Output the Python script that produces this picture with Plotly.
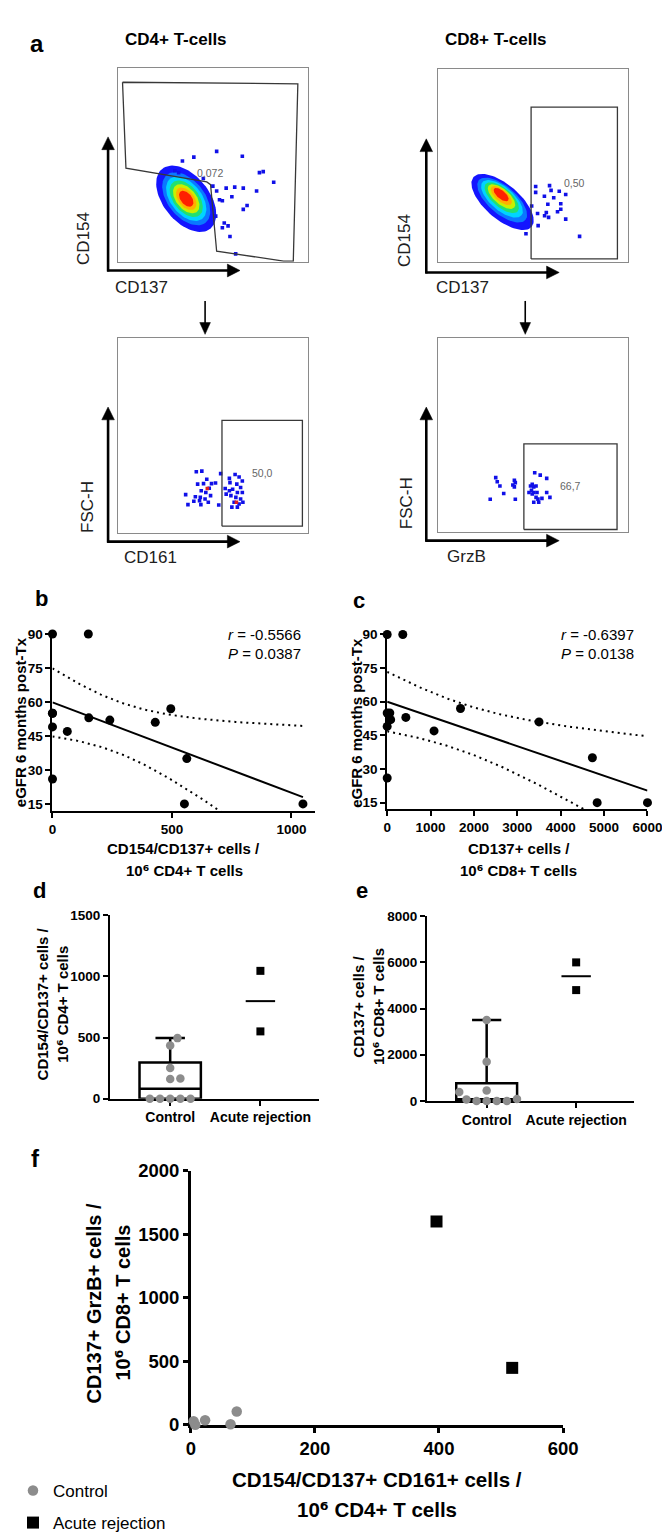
import numpy as np
import plotly.graph_objects as go

W, H = 670, 1533
FONT = "Liberation Sans, Arial, Helvetica, sans-serif"
SUP6 = "<span style='font-family:DejaVu Sans'>⁶</span>"

# ================= DATA =================
# ---- panel a: flow cytometry (display units 0-100 inside each plot) ----
cd4_top_gate_x = [2.5, 94.7, 92.3, 87.2, 52.0, 48.8, 46.8, 4.3, 2.5]
cd4_top_gate_y = [92.7, 91.9, 0.3, 0.3, 5.4, 39.8, 41.2, 48.3, 92.7]
cd4_top_dots_x = [34, 40, 52, 65.5, 74.5, 76.5, 82, 57, 61.5, 66, 73, 60, 66, 68, 56, 58, 55, 59, 62,
                  50, 52, 53.5, 55, 51.5, 30, 32, 45]
cd4_top_dots_y = [52, 54, 57, 54.5, 46, 46.5, 41, 38, 38.5, 38, 36.5, 33.5, 27, 29, 20, 18.5, 17.5, 13, 4,
                  39, 36.5, 32, 31.5, 23.5, 47, 46, 43]
cd4_top_label = "0,072"

cd8_top_gate_x = [49.0, 94.4, 94.4, 49.0, 49.0]
cd8_top_gate_y = [1.4, 1.4, 80.3, 80.3, 1.4]
cd8_top_dots_x = [51.4, 58.7, 59.5, 63.8, 67.2, 56, 60.9, 57.8, 64.6, 62.9, 57, 52.4, 67.2, 58.2, 52.7,
                  74.5, 46.3, 49.3, 51.4, 64.6, 56.1]
cd8_top_dots_y = [39, 39.5, 37, 36.6, 34.9, 34, 33.2, 29.8, 30.1, 25.9, 25.5, 25, 22.1, 23, 18.7,
                  13.1, 14.5, 28.9, 36, 27.2, 23.8]
cd8_top_label = "0,50"

cd4_bot_gate_x = [54.8, 97.1, 97.1, 54.8, 54.8]
cd4_bot_gate_y = [3.4, 3.4, 57.8, 57.8, 3.4]
cd4_bot_dots_x = [41.3, 44.2, 46.8, 42.0, 45.1, 49.3, 51.4, 48.1, 43.9, 46.3, 48.8, 35.7, 40.8, 43.4, 45.9,
                  47.6, 43.0, 36.9, 40.0, 43.7, 53.1, 54.1, 56.5, 58.7, 61.7, 63.8, 65.5, 59.0, 62.6, 64.6,
                  60.4, 62.9, 65.5, 59.5, 62.1, 64.6, 61.2, 63.8, 60.0, 62.9, 58.7, 57.0, 65.8]
cd4_bot_dots_y = [31.4, 31.7, 27.5, 25.0, 25.3, 25.3, 25.6, 22.9, 21.6, 20.7, 19.1, 19.6, 18.5, 18.2, 17.4,
                  15.7, 16.5, 14.5, 16.2, 14.5, 14.3, 30.4, 22.8, 28.0, 30.0, 28.7, 26.6, 25.8, 25.0, 23.3,
                  22.4, 20.7, 20.7, 19.1, 18.2, 17.4, 15.7, 14.8, 13.2, 13.2, 21.6, 19.9, 15.7]
cd4_bot_red_x = [47.1, 62.4]
cd4_bot_red_y = [22.8, 15.7]
cd4_bot_label = "50,0"

cd8_bot_gate_x = [45.2, 94.2, 94.2, 45.2, 45.2]
cd8_bot_gate_y = [1.2, 1.2, 45.4, 45.4, 1.2]
cd8_bot_dots_x = [30.4, 31.2, 32.6, 34.6, 40.2, 40.7, 39.4, 40.2, 27.5, 40.7, 50.9, 53.8, 57.2, 49.6, 50.4,
                  51.6, 49.2, 50.4, 47.9, 49.6, 52.1, 51.6, 52.6, 54.7, 57.2, 58.9, 50.4, 53.0, 48.7]
cd8_bot_dots_y = [28.0, 25.9, 23.7, 19.8, 26.6, 25.4, 24.2, 23.2, 16.8, 16.8, 30.5, 29.3, 27.6, 24.6, 23.2,
                  23.7, 21.5, 20.3, 20.3, 19.5, 20.3, 17.8, 16.9, 17.3, 20.3, 17.8, 15.3, 15.3, 23.7]
cd8_bot_label = "66,7"

# ---- panel b: CD154/CD137+ per 1e6 CD4 vs eGFR ----
b_x = [0, 0, 0, 0, 0, 62, 150, 152, 240, 430, 495, 562, 552, 1048]
b_y = [90, 55, 55, 49, 26, 47, 90, 53, 52, 51, 57, 35, 15, 15]
b_r, b_p = "-0.5566", "0.0387"

# ---- panel c: CD137+ per 1e6 CD8 vs eGFR ----
c_x = [0, 360, 0, 60, 0, 80, 0, 430, 1080, 1690, 3500, 4730, 4840, 6000]
c_y = [90, 90, 55, 55, 49, 52, 26, 53, 47, 57, 51, 35, 15, 15]
c_r, c_p = "-0.6397", "0.0138"

# ---- panels d, e: groups ----
groups = ["Control", "Acute rejection"]
d_control = [0, 0, 0, 0, 0, 160, 165, 250, 435, 495]
d_rejection = [550, 1045]
e_control = [0, 0, 0, 0, 60, 80, 385, 455, 1700, 3500]
e_rejection = [4800, 6000]

# ---- panel f ----
f_control_x = [0, 0, 0, 0, 0, 0, 0, 23, 64, 74]
f_control_y = [0, 0, 0, 0, 0, 0, 0, 36, 4, 105]
f_rej_x = [396, 518]
f_rej_y = [1600, 448]

# ================= HELPERS =================
def X(px):
    return px / W


def Y(py):
    return 1 - py / H


fig = go.Figure()
annotations = []
shapes = []


def txt(x, y, s, size, bold=False, angle=0, xanchor="center", color="black", yanchor="middle"):
    annotations.append(dict(xref="paper", yref="paper", x=X(x), y=Y(y), text=s, showarrow=False,
                            textangle=angle, xanchor=xanchor, yanchor=yanchor,
                            font=dict(family=FONT, size=size, color=color,
                                      weight="bold" if bold else "normal")))


def arrow(x0, y0, x1, y1, width=2.6, head_len=13, head_w=13):
    """Line from (x0,y0) to head tip (x1,y1), pixel positions converted to paper."""
    L = np.hypot(x1 - x0, y1 - y0)
    ux, uy = (x1 - x0) / L, (y1 - y0) / L
    bx, by = x1 - ux * head_len, y1 - uy * head_len
    shapes.append(dict(type="line", xref="paper", yref="paper", x0=X(x0), y0=Y(y0), x1=X(bx + ux),
                       y1=Y(by + uy), line=dict(color="black", width=width)))
    px, py = -uy, ux
    p1 = (bx + px * head_w / 2, by + py * head_w / 2)
    p2 = (bx - px * head_w / 2, by - py * head_w / 2)
    path = (f"M {X(x1)},{Y(y1)} L {X(p1[0])},{Y(p1[1])} L {X(p2[0])},{Y(p2[1])} Z")
    shapes.append(dict(type="path", xref="paper", yref="paper", path=path, fillcolor="black",
                       line=dict(color="black", width=0.5)))


def ellipse(cx, cy, a, b, ang, n=90):
    t = np.linspace(0, 2 * np.pi, n)
    ca, sa = np.cos(np.radians(ang)), np.sin(np.radians(ang))
    return (cx + a * np.cos(t) * ca - b * np.sin(t) * sa,
            cy + a * np.cos(t) * sa + b * np.sin(t) * ca)


layout_axes = {}


def ax_ids(idx):
    return ("x" if idx == 1 else f"x{idx}", "y" if idx == 1 else f"y{idx}")


def flow_axes(idx, x0, x1, ytop, ybot):
    xs = "xaxis" if idx == 1 else f"xaxis{idx}"
    ys = "yaxis" if idx == 1 else f"yaxis{idx}"
    xa, ya = ax_ids(idx)
    common = dict(range=[0, 100], showline=True, mirror=True, linecolor="#8a8a8a", linewidth=1.3,
                  showticklabels=False, ticks="", showgrid=False, zeroline=False, fixedrange=True)
    layout_axes[xs] = dict(domain=[X(x0), X(x1)], anchor=ya, **common)
    layout_axes[ys] = dict(domain=[Y(ybot), Y(ytop)], anchor=xa, **common)


JET = [(1.0, "#1414ff"), (0.80, "#0a78ff"), (0.67, "#00d4ff"), (0.55, "#22e070"),
       (0.44, "#c8f000"), (0.34, "#ffb000"), (0.24, "#ff2000")]


def density(idx, cx, cy, a, b, ang, core):
    xa, ya = ax_ids(idx)
    for s, col in JET:
        ccx = cx + (1 - s) * (core[0] - cx)
        ccy = cy + (1 - s) * (core[1] - cy)
        ex, ey = ellipse(ccx, ccy, a * s, b * s, ang)
        fig.add_trace(go.Scatter(x=ex, y=ey, mode="lines", fill="toself", fillcolor=col,
                                 line=dict(width=0, color=col), xaxis=xa, yaxis=ya,
                                 hoverinfo="skip", showlegend=False))


def flow_panel(idx, gx, gy, dx, dy, label, lx, ly):
    xa, ya = ax_ids(idx)
    fig.add_trace(go.Scatter(x=dx, y=dy, mode="markers", xaxis=xa, yaxis=ya, showlegend=False,
                             marker=dict(symbol="square", size=3.6, color="#1010e8", line=dict(width=0)),
                             hoverinfo="skip"))
    fig.add_trace(go.Scatter(x=gx, y=gy, mode="lines", xaxis=xa, yaxis=ya, showlegend=False,
                             line=dict(color="#383838", width=1.3), hoverinfo="skip"))
    annotations.append(dict(xref=xa, yref=ya, x=lx, y=ly, text=label, showarrow=False,
                            font=dict(family=FONT, size=10.5, color="#666666")))


# ================= PANEL a =================
flow_axes(1, 108, 304, 50, 247)
flow_axes(2, 438, 634, 51, 247)
flow_axes(3, 108, 304, 325, 523)
flow_axes(4, 438, 634, 325, 522)

density(1, 36, 32.5, 20, 12, -50, (36, 32.5))
flow_panel(1, cd4_top_gate_x, cd4_top_gate_y, cd4_top_dots_x, cd4_top_dots_y, cd4_top_label, 48.5, 46)
density(2, 34, 31, 20, 9, -40, (33, 36))
flow_panel(2, cd8_top_gate_x, cd8_top_gate_y, cd8_top_dots_x, cd8_top_dots_y, cd8_top_label, 72, 41)
flow_panel(3, cd4_bot_gate_x, cd4_bot_gate_y, cd4_bot_dots_x, cd4_bot_dots_y, cd4_bot_label, 76, 30.5)
fig.add_trace(go.Scatter(x=cd4_bot_red_x, y=cd4_bot_red_y, mode="markers", xaxis="x3", yaxis="y3",
                         showlegend=False, hoverinfo="skip",
                         marker=dict(symbol="square", size=3.6, color="#e02020", line=dict(width=0))))
flow_panel(4, cd8_bot_gate_x, cd8_bot_gate_y, cd8_bot_dots_x, cd8_bot_dots_y, cd8_bot_label, 69.5, 23.5)

txt(25, 25, "a", 24, bold=True)
txt(168, 21, "CD4+ T-cells", 17, bold=True)
txt(498, 21, "CD8+ T-cells", 17, bold=True)

# flow axis arrows
arrow(98, 257, 98, 120)
arrow(97, 256, 234, 256)
arrow(426, 259, 426, 122)
arrow(425, 258, 563, 258)
arrow(98, 533, 98, 395)
arrow(97, 532, 234, 532)
arrow(426, 532, 426, 395)
arrow(425, 531, 563, 531)
arrow(198, 287, 198, 321, width=1.6, head_len=12, head_w=11)
arrow(528, 287, 528, 321, width=1.6, head_len=12, head_w=11)

LBL = "#202020"
txt(72, 223, "CD154", 17, angle=-90, color=LBL)
txt(132, 273, "CD137", 17, color=LBL)
txt(403, 225, "CD154", 17, angle=-90, color=LBL)
txt(463, 273, "CD137", 17, color=LBL)
txt(77, 497, "FSC-H", 17, angle=-90, color=LBL)
txt(142, 548, "CD161", 17, color=LBL)
txt(405, 493, "FSC-H", 17, angle=-90, color=LBL)
txt(467, 547, "GrzB", 17, color=LBL)

# ================= PANELS b, c =================
T975 = {11: 2.2010, 12: 2.1788, 13: 2.1604}


def data_axis(domain, rng, tickvals, size, lw=2, ticktext=None, anchor=None):
    d = dict(domain=domain, range=rng, tickvals=tickvals, showline=True, linecolor="black",
             linewidth=lw, ticks="outside", ticklen=5, tickwidth=lw, tickcolor="black",
             showgrid=False, zeroline=False, fixedrange=True, layer="below traces", anchor=anchor,
             tickfont=dict(family=FONT, size=size, color="black", weight="bold"))
    if ticktext is not None:
        d["ticktext"] = ticktext
    return d


def regression_panel(xa, ya, xs, ys):
    x = np.asarray(xs, float)
    y = np.asarray(ys, float)
    n = len(x)
    slope, icpt = np.polyfit(x, y, 1)
    resid = y - (slope * x + icpt)
    s = np.sqrt(np.sum(resid ** 2) / (n - 2))
    sxx = np.sum((x - x.mean()) ** 2)
    grid = np.linspace(0, x.max(), 120)
    fit = slope * grid + icpt
    half = T975[n - 2] * s * np.sqrt(1 / n + (grid - x.mean()) ** 2 / sxx)
    for band in (fit + half, fit - half):
        fig.add_trace(go.Scatter(x=grid, y=band, mode="lines", xaxis=xa, yaxis=ya, showlegend=False,
                                 line=dict(color="black", width=2, dash="2px,4px"), hoverinfo="skip"))
    fig.add_trace(go.Scatter(x=grid, y=fit, mode="lines", xaxis=xa, yaxis=ya, showlegend=False,
                             line=dict(color="black", width=2), hoverinfo="skip"))
    fig.add_trace(go.Scatter(x=xs, y=ys, mode="markers", xaxis=xa, yaxis=ya, showlegend=False,
                             cliponaxis=False, marker=dict(color="black", size=9, symbol="circle")))


layout_axes["xaxis5"] = data_axis([X(40.7), X(311.7)], [0, 1100], [0, 500, 1000], 13.5, anchor="y5")
layout_axes["yaxis5"] = data_axis([Y(805.7), Y(626)], [12.1, 90], [15, 30, 45, 60, 75, 90], 13.5,
                                  anchor="x5")
layout_axes["xaxis6"] = data_axis([X(385.7), X(654)], [0, 6000], [0, 1000, 2000, 3000, 4000, 5000, 6000],
                                  13.5, anchor="y6")
layout_axes["yaxis6"] = data_axis([Y(804.3), Y(626.5)], [12.1, 90], [15, 30, 45, 60, 75, 90], 13.5,
                                  anchor="x6")
regression_panel("x5", "y5", b_x, b_y)
regression_panel("x6", "y6", c_x, c_y)

txt(29, 590, "b", 22, bold=True)
txt(357, 592, "c", 22, bold=True)
txt(8, 716, "eGFR 6 months post-Tx", 15, bold=True, angle=-90)
txt(354, 716, "eGFR 6 months post-Tx", 15, bold=True, angle=-90)
txt(299, 627, f"<i>r</i> = {b_r}", 15, xanchor="right")
txt(299, 646, f"<i>P</i> = {b_p}", 15, xanchor="right")
txt(642, 627, f"<i>r</i> = {c_r}", 15, xanchor="right")
txt(642, 646, f"<i>P</i> = {c_p}", 15, xanchor="right")
txt(176, 844, "CD154/CD137+ cells /", 15, bold=True)
txt(177, 867, f"10{SUP6} CD4+ T cells", 15, bold=True)
txt(522, 844, "CD137+ cells /", 15, bold=True)
txt(521, 867, f"10{SUP6} CD8+ T cells", 15, bold=True)

# ================= PANELS d, e =================
GRAY = "#8c8c8c"


def swarm(vals, px_per_unit, diam):
    placed, offs = [], []
    for v in vals:
        yy = v * px_per_unit
        found = None
        step = 0
        while found is None:
            for sgn in ([1] if step == 0 else [1, -1]):
                xx = sgn * step * 0.5
                if all((xx - p) ** 2 + (yy - q) ** 2 >= diam ** 2 for p, q in placed):
                    found = xx
                    break
            step += 1
        placed.append((found, yy))
        offs.append(found)
    return offs


def group_panel(xa, ya, ctrl, rej, px_per_unit, px_per_cat):
    c = np.sort(np.asarray(ctrl, float))
    q1, med, q3 = (np.percentile(c, p, method="weibull") for p in (25, 50, 75))
    fig.add_trace(go.Box(x=[0], q1=[q1], median=[med], q3=[q3], lowerfence=[c.min()], upperfence=[c.max()],
                         xaxis=xa, yaxis=ya, width=0.68, whiskerwidth=0.48, fillcolor="white",
                         line=dict(color="black", width=2.5), boxpoints=False, showlegend=False,
                         hoverinfo="skip"))
    offs = np.array(swarm(c, px_per_unit, 10.5)) / px_per_cat
    fig.add_trace(go.Scatter(x=offs, y=c, mode="markers", xaxis=xa, yaxis=ya, showlegend=False,
                             cliponaxis=False, marker=dict(color=GRAY, size=8.5, symbol="circle")))
    fig.add_trace(go.Scatter(x=[1] * len(rej), y=rej, mode="markers", xaxis=xa, yaxis=ya, showlegend=False,
                             cliponaxis=False, marker=dict(color="black", size=8, symbol="square")))
    fig.add_trace(go.Scatter(x=[1], y=[float(np.mean(rej))], mode="markers", xaxis=xa, yaxis=ya,
                             showlegend=False, cliponaxis=False,
                             marker=dict(symbol="line-ew", size=21, line=dict(color="black", width=2))))


layout_axes["xaxis7"] = data_axis([X(100), X(315)], [-0.667, 1.645], [0, 1], 14, ticktext=groups, anchor="y7")
layout_axes["yaxis7"] = data_axis([Y(1099), Y(912.3)], [0, 1500], [0, 500, 1000, 1500], 13.5, anchor="x7")
layout_axes["xaxis8"] = data_axis([X(426.7), X(640)], [-0.667, 1.645], [0, 1], 14, ticktext=groups, anchor="y8")
layout_axes["yaxis8"] = data_axis([Y(1101.3), Y(913.3)], [0, 8000], [0, 2000, 4000, 6000, 8000], 13.5,
                                  anchor="x8")
group_panel("x7", "y7", d_control, d_rejection, 186.7 / 1500, 93)
group_panel("x8", "y8", e_control, e_rejection, 188 / 8000, 93)

txt(27, 887, "d", 22, bold=True)
txt(360, 887, "e", 22, bold=True)
txt(30, 1003, "CD154/CD137+ cells /", 15, bold=True, angle=-90)
txt(52, 1003, f"10{SUP6} CD4+ T cells", 15, bold=True, angle=-90)
txt(356, 1005, "CD137+ cells /", 15, bold=True, angle=-90)
txt(378, 1005, f"10{SUP6} CD8+ T cells", 15, bold=True, angle=-90)

# ================= PANEL f =================
fx_ppu = 383.7 / 600
fy_ppu = 258.7 / 2000


def spread_duplicates(xs, ys, radius_px=4.6):
    xs = np.asarray(xs, float).copy()
    ys = np.asarray(ys, float).copy()
    keys = list(zip(xs, ys))
    for k in set(keys):
        idx = [i for i, kk in enumerate(keys) if kk == k]
        if len(idx) > 1:
            for j, i in enumerate(idx):
                ang = 2 * np.pi * j / len(idx)
                xs[i] += radius_px * np.cos(ang) / fx_ppu
                ys[i] += radius_px * np.sin(ang) / fy_ppu
    return xs, ys


fcx, fcy = spread_duplicates(f_control_x, f_control_y)
fig.add_trace(go.Scatter(x=fcx, y=fcy, mode="markers", xaxis="x9", yaxis="y9", name="Control",
                         legendgroup="ctrl", cliponaxis=False,
                         marker=dict(color=GRAY, size=10.5, symbol="circle")))
fig.add_trace(go.Scatter(x=f_rej_x, y=f_rej_y, mode="markers", xaxis="x9", yaxis="y9",
                         name="Acute rejection", legendgroup="rej", cliponaxis=False,
                         marker=dict(color="black", size=12, symbol="square")))

layout_axes["xaxis9"] = data_axis([X(183.3), X(567)], [0, 600], [0, 200, 400, 600], 18.5, lw=2.5, anchor="y9")
layout_axes["yaxis9"] = data_axis([Y(1431), Y(1172.3)], [0, 2000], [0, 500, 1000, 1500, 2000], 18.5, lw=2.5,
                                  anchor="x9")

txt(23, 1160, "f", 24, bold=True)
txt(83, 1307, "CD137+ GrzB+ cells /", 20, bold=True, angle=-90)
txt(113, 1307, f"10{SUP6} CD8+ T cells", 20, bold=True, angle=-90)
txt(375, 1487, "CD154/CD137+ CD161+ cells /", 20.5, bold=True)
txt(375, 1518, f"10{SUP6} CD4+ T cells", 20.5, bold=True)

fig.update_layout(
    width=W, height=H, autosize=False,
    margin=dict(l=0, r=0, t=0, b=0),
    paper_bgcolor="white", plot_bgcolor="rgba(0,0,0,0)",
    showlegend=True,
    legend=dict(x=0, y=Y(1480), xanchor="left", yanchor="top", bgcolor="rgba(0,0,0,0)",
                font=dict(family=FONT, size=17, color="black"), tracegroupgap=7, itemwidth=30),
    annotations=annotations,
    shapes=shapes,
    **layout_axes,
)

fig.write_html("out.html")
